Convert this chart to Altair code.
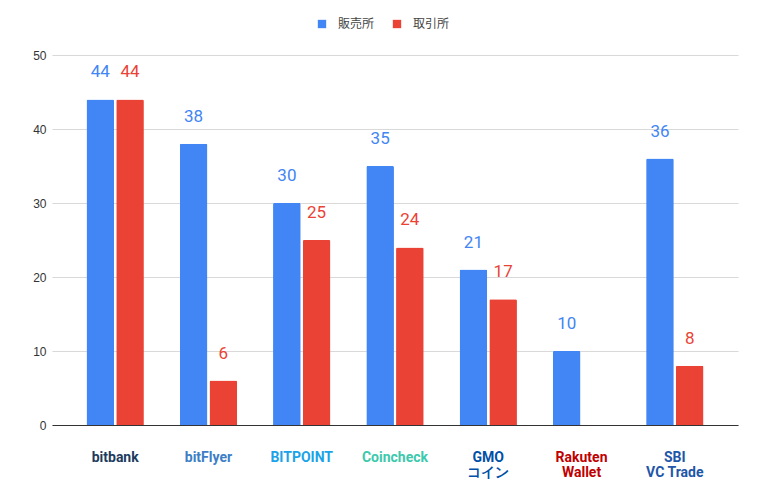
import altair as alt
import pandas as pd

exchanges = ["bitbank", "bitFlyer", "BITPOINT", "Coincheck", "GMOコイン", "Rakuten Wallet", "SBI VC Trade"]
logo_text = ["bitbank", "bitFlyer", "BITPOINT", "Coincheck", "GMO\nコイン", "Rakuten\nWallet", "SBI\nVC Trade"]
logo_colors = ["#1d3b5e", "#3d7ec6", "#1aa3e8", "#3cc9ad", "#0050a8", "#bf0000", "#1e56a8"]
series = ["販売所", "取引所"]
hanbaijo = [44, 38, 30, 35, 21, 10, 36]
torihikijo = [44, 6, 25, 24, 17, None, 8]
series_colors = ["#4285F4", "#EA4335"]
y_ticks = [0, 10, 20, 30, 40, 50]

rows = []
for i, ex in enumerate(exchanges):
    for s, vals in zip(series, [hanbaijo, torihikijo]):
        if vals[i] is not None:
            rows.append({"exchange": ex, "series": s, "value": vals[i]})
df = pd.DataFrame(rows)
logos = pd.DataFrame({"exchange": exchanges, "label": logo_text, "lc": logo_colors})

xscale = alt.Scale(domain=exchanges, paddingInner=0.385, paddingOuter=0.37)
xoff = alt.XOffset("series:N", sort=series, scale=alt.Scale(domain=series, paddingInner=0.07, paddingOuter=0))
color = alt.Color(
    "series:N",
    scale=alt.Scale(domain=series, range=series_colors),
    legend=alt.Legend(
        title=None, orient="none", direction="horizontal", legendX=264, legendY=-37,
        symbolType="square", symbolSize=70, symbolStrokeWidth=0, labelFontSize=12,
        labelFont="Noto Sans CJK JP", labelColor="#444", labelOffset=10, columnPadding=16,
    ),
)

x = alt.X(
    "exchange:N", sort=exchanges, scale=xscale, title=None,
    axis=alt.Axis(labels=False, ticks=False, domain=True, domainColor="#333", domainWidth=1, grid=False),
)
y = alt.Y(
    "value:Q", scale=alt.Scale(domain=[0, 50], nice=False), title=None,
    axis=alt.Axis(values=y_ticks, domain=False, ticks=False, tickSize=0, labelPadding=6,
                  labelFontSize=12, labelColor="#333", labelFont="Liberation Sans",
                  gridColor="#d9d9d9", gridWidth=1),
)

bars = alt.Chart(df).mark_bar(cornerRadiusTopLeft=1.5, cornerRadiusTopRight=1.5).encode(
    x=x, xOffset=xoff, y=y, color=color
)
vals = alt.Chart(df).mark_text(baseline="alphabetic", dy=-22, fontSize=17, font="Roboto").encode(
    x=alt.X("exchange:N", sort=exchanges, scale=xscale),
    xOffset=xoff,
    y="value:Q",
    text="value:Q",
    color=alt.Color("series:N", scale=alt.Scale(domain=series, range=["#5a95f5", "#eb5a4f"]), legend=None),
)
logo_layer = alt.Chart(logos).mark_text(
    baseline="middle", fontSize=14, fontWeight="bold", font="Roboto", lineBreak="\n", lineHeight=15
).encode(
    x=alt.X("exchange:N", sort=exchanges, scale=xscale),
    y=alt.value(403),
    text="label:N",
    fill=alt.Fill("lc:N", scale=None),
)

chart = alt.layer(bars, vals, logo_layer).properties(
    width=686, height=370,
    padding={"left": 44, "top": 47, "right": 27, "bottom": 60},
    autosize="none",
).configure_view(stroke=None)

chart.save("out.html", embed_options={"renderer": "svg", "actions": False})
